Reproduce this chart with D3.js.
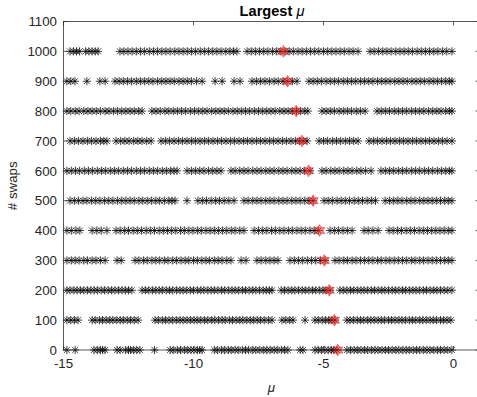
<!DOCTYPE html>
<html>
<head>
<meta charset="utf-8">
<script src="https://cdn.jsdelivr.net/npm/d3@7"></script>
<style>
  html, body { margin: 0; padding: 0; background: #fff; }
  text { font-family: "Liberation Sans", Arial, Helvetica, sans-serif; fill: #262626; }
</style>
</head>
<body>
<svg id="chart" width="477" height="397"></svg>
<script>
// rows of sampled mu values, one per # swaps level
const swaps = [0, 100, 200, 300, 400, 500, 600, 700, 800, 900, 1000];

const mu0 = [-14.87, -14.55, -13.83, -13.7, -13.58, -13.5, -13.4,
  -12.94, -12.82, -12.62, -12.5, -12.42, -12.3, -12.18, -12.06, -11.5,
  -10.9, -10.78, -10.62, -10.5, -10.35, -10.22, -10.1, -9.98, -9.85, -9.76, -9.67,
  -9.2, -9.08, -8.92, -8.8, -8.66, -8.55, -8.4, -8.28, -8.12, -8.0, -7.88, -7.72, -7.6, -7.45,
  -7.3, -7.18, -7.05, -6.9, -6.78, -6.62, -6.5, -6.37, -5.9, -5.79,
  -5.33, -5.2, -5.08, -4.95, -4.82, -4.7, -4.6, -4.48,
  -4.1, -3.96, -3.82, -3.7, -3.56, -3.42, -3.3, -3.15, -3.02, -2.9, -2.75, -2.62, -2.5, -2.36,
  -2.22, -2.1, -1.95, -1.82, -1.7, -1.55, -1.42, -1.3, -1.16, -1.02, -0.9, -0.76, -0.62, -0.5, -0.36, -0.22, -0.06];

const mu100 = [-14.87, -14.72, -14.58, -14.44,
  -13.9, -13.78, -13.62, -13.5, -13.36, -13.22, -13.1, -12.95, -12.82, -12.7, -12.55, -12.42, -12.28, -12.13,
  -11.48, -11.35, -11.2, -11.08, -10.94, -10.8, -10.66, -10.52, -10.4, -10.25, -10.12, -9.98, -9.86,
  -9.72, -9.58, -9.45, -9.3, -9.18, -9.04, -8.9, -8.78, -8.62, -8.5, -8.36, -8.22, -8.1, -7.95, -7.82,
  -7.7, -7.55, -7.42, -7.28, -7.12, -6.98, -6.6, -6.45, -6.3, -6.17, -5.71,
  -5.33, -5.2, -5.05, -4.92, -4.8, -4.68, -4.56,
  -4.1, -3.98, -3.85, -3.7, -3.58, -3.45, -3.3, -3.18, -3.05, -2.9, -2.78, -2.65, -2.5, -2.38, -2.25,
  -2.1, -1.98, -1.85, -1.7, -1.58, -1.45, -1.3, -1.18, -1.05, -0.9, -0.78, -0.65, -0.5, -0.38, -0.25, -0.1];

const mu200 = [-14.87, -14.75, -14.6, -14.48, -14.35, -14.22, -14.08, -13.95, -13.82, -13.7, -13.55,
  -13.42, -13.28, -13.15, -13.02, -12.88, -12.75, -12.62, -12.5, -12.37,
  -11.98, -11.85, -11.72, -11.58, -11.45, -11.32, -11.2, -11.05, -10.92, -10.8, -10.65, -10.52, -10.4,
  -10.26, -10.12, -10.0, -9.85, -9.72, -9.6, -9.45, -9.32, -9.2, -9.06, -8.92, -8.8, -8.66, -8.52, -8.4,
  -8.26, -8.12, -8.0, -7.86, -7.72, -7.6, -7.46, -7.32, -7.2, -7.08, -6.98,
  -6.63, -6.5, -6.36, -6.22, -6.1, -5.96, -5.82, -5.7, -5.56, -5.42, -5.3, -5.16, -5.02, -4.9, -4.75,
  -4.37, -4.24, -4.1, -3.96, -3.84, -3.7, -3.56, -3.44, -3.3, -3.16, -3.04, -2.9, -2.76, -2.64, -2.5,
  -2.36, -2.24, -2.1, -1.96, -1.84, -1.7, -1.56, -1.44, -1.3, -1.16, -1.04, -0.9, -0.76, -0.64, -0.5, -0.36, -0.22, -0.06];

const mu300 = [-14.87, -14.7, -14.55, -14.4, -14.22, -14.08, -13.9, -13.75, -13.58, -13.4,
  -12.94, -12.78,
  -12.25, -12.1, -11.92, -11.78, -11.6, -11.45, -11.3, -11.12, -10.98, -10.8, -10.65, -10.48, -10.32,
  -10.18, -10.0, -9.85, -9.68, -9.52, -9.38, -9.2, -9.05, -8.9, -8.72, -8.56,
  -8.17, -7.98, -7.56, -7.4, -7.22, -7.06, -6.9, -6.75,
  -6.29, -6.12, -5.96, -5.8, -5.62, -5.46, -5.3, -5.12, -4.94,
  -4.56, -4.4, -4.22, -4.08, -3.9, -3.75, -3.58, -3.42, -3.26, -3.1, -2.92, -2.78, -2.6, -2.45, -2.28,
  -2.12, -1.96, -1.8, -1.62, -1.48, -1.3, -1.15, -0.98, -0.82, -0.66, -0.5, -0.34, -0.2, -0.06];

const mu400 = [-14.87, -14.7, -14.52, -14.37, -13.9, -13.72, -13.55, -13.33,
  -12.98, -12.82, -12.65, -12.5, -12.32, -12.16, -12.0, -11.82, -11.66, -11.5, -11.32, -11.16, -11.0,
  -10.84, -10.68, -10.5, -10.35, -10.18, -10.02, -9.85, -9.7, -9.52, -9.36, -9.2, -9.04, -8.88, -8.72,
  -8.55, -8.4, -8.22, -8.06,
  -7.67, -7.5, -7.34, -7.18, -7.0, -6.85, -6.68, -6.52, -6.35, -6.2, -6.02, -5.86, -5.7, -5.52, -5.36, -5.2,
  -4.75, -4.58, -4.42, -4.25, -4.08, -3.9, -3.44, -3.28, -3.1, -2.9,
  -2.48, -2.32, -2.15, -2.0, -1.82, -1.66, -1.5, -1.32, -1.16, -1.0, -0.84, -0.68, -0.52, -0.36, -0.2, -0.06];

const mu500 = [-14.75, -14.58, -14.42, -14.25, -14.1, -13.92, -13.76, -13.6, -13.42, -13.26, -13.1,
  -12.92, -12.76, -12.6, -12.44, -12.28, -12.1, -11.95, -11.78, -11.62, -11.45, -11.3, -11.12, -10.95,
  -10.83, -10.71, -10.25,
  -9.83, -9.66, -9.5, -9.32, -9.15, -9.0, -8.82, -8.64, -8.44,
  -8.06, -7.9, -7.72, -7.56, -7.4, -7.22, -7.06, -6.9, -6.72, -6.56, -6.4, -6.22, -6.06, -5.9, -5.72, -5.56, -5.4,
  -4.98, -4.82, -4.66, -4.48, -4.32, -4.16, -4.0, -3.82, -3.66, -3.5, -3.32, -3.16, -3.0,
  -2.63, -2.46, -2.3, -2.14, -1.98, -1.8, -1.64, -1.48, -1.3, -1.14, -0.98, -0.82, -0.66, -0.5, -0.34, -0.2, -0.06];

const mu600 = [-14.87, -14.7, -14.54, -14.38, -14.2, -14.04, -13.88, -13.7, -13.54, -13.38, -13.2, -13.04,
  -12.88, -12.7, -12.54, -12.38, -12.2, -12.04, -11.88, -11.7, -11.54, -11.38, -11.2, -11.04, -10.88,
  -10.75, -10.63,
  -10.25, -10.08, -9.92, -9.76, -9.6, -9.42, -9.26, -9.1, -8.94,
  -8.56, -8.4, -8.22, -8.06, -7.9, -7.72, -7.56, -7.4, -7.22, -7.06, -6.9, -6.72, -6.56, -6.4, -6.22,
  -6.06, -5.9, -5.72, -5.52,
  -5.06, -4.9, -4.72, -4.56, -4.4, -4.22, -4.06, -3.9, -3.72, -3.56, -3.38, -3.17,
  -2.79, -2.62, -2.46, -2.3, -2.12, -1.96, -1.8, -1.62, -1.46, -1.3, -1.12, -0.96, -0.8, -0.62, -0.46, -0.3, -0.16, -0.06];

const mu700 = [-14.75, -14.58, -14.42, -14.25, -14.08, -13.92, -13.75, -13.58, -13.45, -13.33,
  -12.98, -12.8, -12.64, -12.48, -12.3, -12.14, -11.98, -11.8, -11.63,
  -11.25, -11.08, -10.92, -10.75, -10.58, -10.42, -10.25, -10.08, -9.92, -9.75, -9.58, -9.42, -9.25,
  -9.08, -8.92, -8.75, -8.58, -8.42, -8.25, -8.08, -7.92, -7.75, -7.58, -7.42, -7.25, -7.08, -6.92,
  -6.75, -6.58, -6.42, -6.25, -6.08, -5.92, -5.78, -5.63,
  -5.17, -5.0, -4.84, -4.66, -4.5, -4.34, -4.16, -4.0, -3.84, -3.67,
  -3.25, -3.08, -2.92, -2.75, -2.58, -2.42, -2.25, -2.08, -1.92, -1.75, -1.58, -1.42, -1.25, -1.08,
  -0.92, -0.75, -0.58, -0.42, -0.25, -0.06];

const mu800 = [-14.87, -14.72, -14.55, -14.4, -14.22, -14.06, -13.9, -13.74, -13.58, -13.4, -13.25,
  -13.08, -12.92, -12.76, -12.6, -12.44, -12.28, -12.12, -11.98,
  -11.6, -11.44, -11.28, -11.1, -10.95, -10.78, -10.62, -10.46, -10.3, -10.12, -9.96, -9.8, -9.64,
  -9.48, -9.3, -9.14, -8.98, -8.82, -8.66, -8.48, -8.32, -8.16, -8.0, -7.84, -7.66, -7.5, -7.34, -7.18,
  -7.02, -6.86, -6.68, -6.52, -6.36, -6.2, -6.04, -5.88, -5.72, -5.6,
  -5.06, -4.9, -4.74, -4.58, -4.4, -4.24, -4.08, -3.92, -3.74, -3.58, -3.4,
  -2.94, -2.78, -2.62, -2.46, -2.28, -2.12, -1.96, -1.8, -1.62, -1.46, -1.3, -1.14, -0.96, -0.8, -0.64,
  -0.48, -0.3, -0.16, -0.06];

const mu900 = [-14.87, -14.72, -14.56, -14.1, -13.6, -13.4,
  -13.02, -12.86, -12.7, -12.54, -12.38, -12.2, -12.04, -11.88, -11.72, -11.56, -11.38, -11.22, -11.06,
  -10.9, -10.74, -10.56, -10.4, -10.24, -10.08, -9.88, -9.67,
  -9.17, -8.9, -8.44, -8.21,
  -7.75, -7.58, -7.42, -7.25, -7.08, -6.9, -6.74, -6.56, -6.4, -6.2, -6.02,
  -5.56, -5.4, -5.24, -5.08, -4.9, -4.74, -4.58, -4.42, -4.24, -4.08, -3.92, -3.76, -3.58, -3.42,
  -3.26, -3.1, -2.92, -2.76, -2.6, -2.44, -2.26, -2.1, -1.94, -1.78, -1.6, -1.44, -1.28, -1.12, -0.94,
  -0.78, -0.62, -0.46, -0.3, -0.16, -0.06];

const mu1000 = [-14.75, -14.62, -14.5, -14.38, -14.15, -14.02, -13.9, -13.78, -13.67,
  -12.83, -12.68, -12.52, -12.36, -12.2, -12.04, -11.88, -11.7, -11.54, -11.38, -11.22, -11.06, -10.9,
  -10.72, -10.56, -10.4, -10.24, -10.08, -9.92, -9.74, -9.58, -9.42, -9.26, -9.1, -8.94, -8.76, -8.6,
  -8.46, -8.33,
  -7.94, -7.78, -7.62, -7.46, -7.3, -7.14, -6.96, -6.8, -6.64, -6.48, -6.32, -6.16, -5.98, -5.82,
  -5.66, -5.5, -5.34, -5.18, -5.0, -4.84, -4.68, -4.52, -4.36, -4.2, -4.02, -3.86, -3.67,
  -3.21, -3.05, -2.88, -2.72, -2.56, -2.4, -2.22, -2.06, -1.9, -1.74, -1.58, -1.4, -1.24, -1.08,
  -0.92, -0.76, -0.6, -0.42, -0.26, -0.06];

const muRows = [mu0, mu100, mu200, mu300, mu400, mu500, mu600, mu700, mu800, mu900, mu1000];

// largest mu for each swaps level (red stars)
const largestMu = [-4.45, -4.58, -4.78, -4.97, -5.15, -5.4, -5.58, -5.83, -6.05, -6.38, -6.54];

const xTicks = [-15, -10, -5, 0];
const yTicks = [0, 100, 200, 300, 400, 500, 600, 700, 800, 900, 1000, 1100];

const box = { left: 63.5, right: 479.5, top: 21.5, bottom: 350 };
const axisColor = "#262626";

const svg = d3.select("#chart");

const x = d3.scaleLinear().domain([-15, 1]).range([box.left, box.right]);
const y = d3.scaleLinear().domain([0, 1100]).range([box.bottom, box.top]);

// asterisk marker like matlab '*'
const r = 4.1, d = r * 0.72;
const asterisk = `M${-r},0H${r}M0,${-r}V${r}M${-d},${-d}L${d},${d}M${-d},${d}L${d},${-d}`;

const points = [];
muRows.forEach((row, i) => row.forEach(m => points.push({ mu: m, s: swaps[i] })));

const plot = svg.append("g");

plot.selectAll(".pt")
  .data(points)
  .enter()
  .append("path")
  .attr("class", "pt")
  .attr("d", asterisk)
  .attr("transform", p => `translate(${x(p.mu)},${y(p.s)})`)
  .attr("fill", "none")
  .attr("stroke", "#000")
  .attr("stroke-width", 0.75);

// hexagram
function hexagram(R) {
  const ri = R / Math.sqrt(3);
  const pts = [];
  for (let k = 0; k < 12; k++) {
    const a = -Math.PI / 2 + k * Math.PI / 6;
    const rr = k % 2 === 0 ? R : ri;
    pts.push([rr * Math.cos(a), rr * Math.sin(a)]);
  }
  return "M" + pts.map(p => p[0].toFixed(2) + "," + p[1].toFixed(2)).join("L") + "Z";
}

plot.selectAll(".star")
  .data(largestMu)
  .enter()
  .append("path")
  .attr("class", "star")
  .attr("d", hexagram(6))
  .attr("transform", (m, i) => `translate(${x(m)},${y(swaps[i])})`)
  .attr("fill", "#ff2020")
  .attr("fill-opacity", 0.55)
  .attr("stroke", "#d00000")
  .attr("stroke-opacity", 0.6)
  .attr("stroke-width", 0.6);

// axes box
const ax = svg.append("g").attr("stroke", axisColor).attr("stroke-width", 0.75).attr("fill", "none");
ax.append("rect").attr("x", box.left).attr("y", box.top)
  .attr("width", box.right - box.left).attr("height", box.bottom - box.top);

const tl = 4;
xTicks.forEach(t => {
  ax.append("line").attr("x1", x(t)).attr("x2", x(t)).attr("y1", box.bottom).attr("y2", box.bottom - tl);
  ax.append("line").attr("x1", x(t)).attr("x2", x(t)).attr("y1", box.top).attr("y2", box.top + tl);
});
yTicks.forEach(t => {
  ax.append("line").attr("x1", box.left).attr("x2", box.left + tl).attr("y1", y(t)).attr("y2", y(t));
  ax.append("line").attr("x1", box.right).attr("x2", box.right - tl).attr("y1", y(t)).attr("y2", y(t));
});

// tick labels
svg.append("g").selectAll("text")
  .data(xTicks)
  .enter()
  .append("text")
  .attr("x", t => x(t))
  .attr("y", 368)
  .attr("text-anchor", "middle")
  .attr("font-size", "13.3px")
  .text(t => t === 0 ? "0" : "-" + Math.abs(t));

svg.append("g").selectAll("text")
  .data(yTicks)
  .enter()
  .append("text")
  .attr("x", 57)
  .attr("y", t => y(t) + 4.7)
  .attr("text-anchor", "end")
  .attr("font-size", "13.3px")
  .text(t => t);

// labels
svg.append("text")
  .attr("x", (box.left + box.right) / 2)
  .attr("y", 392)
  .attr("text-anchor", "middle")
  .attr("font-size", "13.3px")
  .attr("font-style", "italic")
  .text("μ");

svg.append("text")
  .attr("transform", `translate(17,${(box.top + box.bottom) / 2}) rotate(-90)`)
  .attr("text-anchor", "middle")
  .attr("font-size", "13.3px")
  .text("# swaps");

const title = svg.append("text")
  .attr("x", 272)
  .attr("y", 15.5)
  .attr("text-anchor", "middle")
  .attr("font-size", "14.6px")
  .attr("font-weight", "bold")
  .style("fill", "#000");
title.append("tspan").text("Largest ");
title.append("tspan").attr("font-style", "italic").attr("font-weight", "normal").text("μ");
</script>
</body>
</html>
